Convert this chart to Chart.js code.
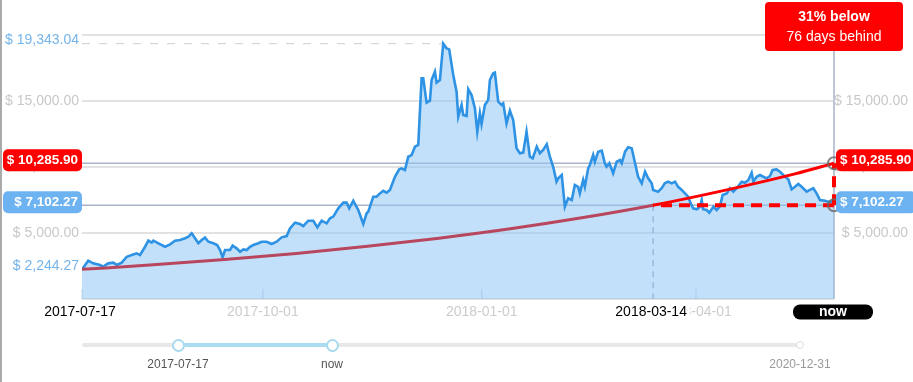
<!DOCTYPE html>
<html>
<head>
<meta charset="utf-8">
<script src="https://cdn.jsdelivr.net/npm/chart.js@4.4.1/dist/chart.umd.min.js"></script>
<style>
html,body{margin:0;padding:0;background:#fff;}
#wrap{position:relative;width:913px;height:382px;overflow:hidden;font-family:'Liberation Sans',Arial,sans-serif;}
#c{position:absolute;left:0;top:0;}
.edge{position:absolute;left:0;top:0;width:2px;height:382px;background:#aaa;}
.tab{position:absolute;top:-20px;height:20px;border:1px solid #d0d0d0;border-radius:0 0 3px 3px;box-sizing:border-box;}
.track{position:absolute;left:82px;top:343px;width:718px;height:4px;border-radius:2px;background:#e8e8e8;}
.range{position:absolute;top:343px;height:4px;background:#aadcf2;}
.handle{position:absolute;width:13px;height:13px;border-radius:50%;box-sizing:border-box;border:2px solid #a6daf0;background:#fff;top:338.5px;margin-left:-6.5px;}
.endpt{position:absolute;width:8px;height:8px;border-radius:50%;box-sizing:border-box;border:1.5px solid #dcdcdc;background:#fff;top:341px;margin-left:-4px;}
.slab{position:absolute;top:357px;font-size:12px;color:#555;transform:translateX(-50%);white-space:nowrap;}
</style>
</head>
<body>
<div id="wrap">
<canvas id="c" width="913" height="382"></canvas>
<div class="edge"></div>
<div class="tab" style="left:17px;width:81px"></div>
<div class="tab" style="left:189px;width:800px"></div>
<div id="slider"></div>
</div>
<script>
// ---------- data ----------
const startDate = '2017-07-17';
const priceDays = [0,2.6,4.7,7.6,8.9,11.0,13.2,14.6,16.7,18.8,20.9,23.0,24.4,26.5,27.9,29.3,30.0,32.1,34.9,37.0,39.1,41.2,43.3,44.7,46.1,47.5,48.9,50.3,51.7,53.1,55.2,56.8,58.0,59.1,60.1,62.2,63.3,65.0,66.4,67.8,69.2,70.6,72.0,74.1,75.5,77.6,79.7,81.8,83.9,86.0,87.4,89.5,91.6,93.0,95.1,97.2,98.9,100.7,102.8,104.2,105.6,107.7,109.8,111.2,112.3,114.0,116.1,118.2,119.6,120.3,122.4,123.8,125.2,126.6,128.0,129.4,131.5,133.3,134.3,135.7,137.1,138.5,139.9,141.3,142.7,143.4,144.8,146.2,146.9,148.3,149.0,150.4,151.8,153.2,154.3,156.0,157.4,158.1,159.5,160.2,161.6,162.3,163.7,165.1,166.1,167.2,167.9,169.3,170.7,171.4,172.8,173.5,174.9,176.3,177.0,178.4,179.8,181.2,182.6,184.0,185.4,186.8,188.2,189.4,191.1,192.4,193.8,195.3,196.6,198.0,199.4,200.1,201.6,202.9,204.3,205.8,207.1,208.5,209.2,210.6,211.3,212.7,213.4,214.8,215.5,216.9,218.4,219.7,220.4,221.6,223.2,224.7,226.1,226.8,228.2,229.5,231.0,232.4,233.7,235.2,236.6,237.9,239.4,240.0,242.1,243.6,244.9,246.3,247.8,249.2,250.5,252.0,253.4,254.7,255.5,256.8,258.3,259.7,260.4,261.0,262.5,263.6,265.3,266.7,268.1,269.2,270.9,272.3,273.7,275.1,277.2,278.6,280.0,281.4,282.1,283.5,284.9,286.3,287.7,289.1,290.2,291.9,293.3,295.4,296.8,298.2,299.6,301.0,302.4,304.5,305.9,307.3,308.7,310.1,312.2,313.6,315.0,316];
const prices = [2244.27,2900,2700,2575,2450,2700,2750,2575,2750,3200,3330,3460,3330,3960,4420,4270,4420,4220,3960,4140,4420,4470,4600,4720,4980,4600,4220,4470,4650,4340,4220,4090,3710,3160,3710,3710,4040,3840,3580,3760,3710,3960,4090,4220,4340,4340,4170,4340,4670,4770,5350,5780,5680,5530,5930,5930,5430,5930,5730,6110,6240,6870,7300,7300,6870,7450,6740,5680,6490,6610,7750,7750,8000,8200,8050,8260,9260,9820,9900,9770,10780,10900,11540,11670,16720,16720,14870,15020,16590,17220,16390,16590,19343.04,18990,18910,16970,15700,13810,14700,13940,13860,15890,15450,14450,12670,14070,13260,14700,15080,16590,17100,17150,14950,14700,14820,13300,14270,13560,11420,11040,11090,12670,10780,10660,11540,11040,11290,11720,10780,10020,8890,9140,9390,6990,7630,7500,8640,8500,8000,9020,8500,9900,10150,10910,10400,11160,11240,10280,10020,10280,9520,10400,10530,10280,11160,11490,11420,10280,9260,8760,9640,9140,8760,8260,8130,8390,8760,8890,8760,8890,8500,8260,8000,7750,7370,6870,6800,6990,7500,6800,6740,6540,6990,6740,7040,7880,8000,8390,8130,8390,8890,8810,9020,9570,8890,9260,9390,9260,9140,9320,9770,9820,9640,9260,9070,8310,8500,8710,8500,8130,8260,8390,8000,7500,7450,7370,7370,7102.27];
const trendDays   = [0,30,60,90,120,150,180,210,240,270,300,316];
const trendValues = [2244.27,2590,2990,3450,3990,4610,5320,6150,7102.27,8230,9500,10285.90];
const crossDay = 240;          // 2018-03-14
const nowDay = 316;            // now
const peakDay = 151.8;
const peakValue = 19343.04;
const startValue = 2244.27;
const nowValue = 7102.27;
const targetValue = 10285.90;
const xTickDays   = [0,76,168,240,258,316];
const xTickLabels = ['2017-07-17','2017-10-01','2018-01-01','2018-03-14','2018-04-01','now'];
const xHighlight  = ['2017-07-17','2018-03-14'];
const yTickValues = [0,5000,10000,15000,20000];
const sliderLabels = ['2017-07-17','now','2020-12-31'];

// ---------- helpers ----------
const FONT = "'Liberation Sans', Arial, sans-serif";
const money = v => '$ ' + v.toLocaleString('en-US',{minimumFractionDigits:2,maximumFractionDigits:2});
function rr(ctx,x,y,w,h,r){ctx.beginPath();ctx.moveTo(x+r,y);ctx.lineTo(x+w-r,y);ctx.arcTo(x+w,y,x+w,y+r,r);ctx.lineTo(x+w,y+h-r);ctx.arcTo(x+w,y+h,x+w-r,y+h,r);ctx.lineTo(x+r,y+h);ctx.arcTo(x,y+h,x,y+h-r,r);ctx.lineTo(x,y+r);ctx.arcTo(x,y,x+r,y,r);ctx.closePath();}
function line(ctx,x1,y1,x2,y2){ctx.beginPath();ctx.moveTo(x1,y1);ctx.lineTo(x2,y2);ctx.stroke();}

Chart.defaults.font.family = FONT;

const overlay = {
  id:'overlay',
  beforeDatasetsDraw(chart){
    const {ctx, chartArea:a, scales:{x,y}} = chart;
    const yT = y.getPixelForValue(targetValue), yN = y.getPixelForValue(nowValue);
    const xN = x.getPixelForValue(nowDay), xC = x.getPixelForValue(crossDay);
    ctx.save();
    ctx.strokeStyle='#cfcfcf'; ctx.lineWidth=1; ctx.setLineDash([8,9]);
    const yP = y.getPixelForValue(peakValue);
    line(ctx,a.left,yP,x.getPixelForValue(peakDay),yP);
    ctx.setLineDash([]);
    ctx.strokeStyle='#a9b4c8'; ctx.lineWidth=1.5;
    line(ctx,a.left,yT,a.right,yT);
    line(ctx,a.left,yN,a.right,yN);
    ctx.strokeStyle='#bcc6d6'; ctx.lineWidth=2;
    line(ctx,xN,a.top,xN,a.bottom);
    ctx.strokeStyle='rgba(120,150,185,0.45)'; ctx.lineWidth=1;
    xTickDays.forEach(d=>{ if(d!==crossDay && d!==nowDay){const px=x.getPixelForValue(d); line(ctx,px,a.bottom-10,px,a.bottom);} });
    ctx.strokeStyle='#a4b0c6'; ctx.lineWidth=1.5; ctx.setLineDash([6,5]);
    line(ctx,xC,yN,xC,a.bottom);
    ctx.restore();
  },
  afterDatasetsDraw(chart){
    const {ctx, scales:{x,y}} = chart;
    const yT = y.getPixelForValue(targetValue), yN = y.getPixelForValue(nowValue);
    const xN = x.getPixelForValue(nowDay), xC = x.getPixelForValue(crossDay);
    ctx.save();
    ctx.strokeStyle='#ff0000'; ctx.lineWidth=4; ctx.setLineDash([11,7]);
    ctx.beginPath(); ctx.moveTo(xN,yN); ctx.lineTo(xC,yN); ctx.stroke();
    ctx.beginPath(); ctx.moveTo(xN,yN); ctx.lineTo(xN,yT); ctx.stroke();
    ctx.setLineDash([]);
    ctx.strokeStyle='rgba(105,105,105,0.8)'; ctx.lineWidth=2;
    [yT,yN].forEach(py=>{ctx.beginPath();ctx.arc(xN,py,6,0,Math.PI*2);ctx.stroke();});
    ctx.restore();
  },
  afterDraw(chart){
    const {ctx, chartArea:a, scales:{x,y}} = chart;
    const yT = y.getPixelForValue(targetValue), yN = y.getPixelForValue(nowValue);
    ctx.save();
    ctx.textBaseline='middle';
    ctx.font = '14px '+FONT; ctx.fillStyle='#74b4ea'; ctx.textAlign='right';
    ctx.fillText(money(peakValue), a.left-3, y.getPixelForValue(peakValue)-3.5);
    ctx.fillText(money(startValue), a.left-3, y.getPixelForValue(startValue)-3.5);
    function box(val, py, color){
      ctx.fillStyle=color;
      rr(ctx,3,py-14,79,22,5); ctx.fill();
      rr(ctx,a.right+2,py-14,80,22,5); ctx.fill();
      ctx.fillStyle='#fff'; ctx.font='bold 13.5px '+FONT;
      ctx.textAlign='right'; ctx.fillText(money(val), 78, py-3);
      ctx.textAlign='left'; ctx.fillText(money(val), a.right+6, py-3);
    }
    box(targetValue, yT, '#ff0000');
    box(nowValue, yN, '#6db3f2');
    const ly = 312;
    ctx.font='14px '+FONT; ctx.textAlign='center';
    xTickDays.forEach((d,i)=>{
      const lab = xTickLabels[i];
      const px = x.getPixelForValue(d)-2;
      if(xHighlight.includes(lab)){
        const w = ctx.measureText(lab).width;
        ctx.fillStyle='#fff'; ctx.fillRect(px-w/2-3, ly-9, w+6, 18);
        ctx.fillStyle='#000'; ctx.fillText(lab, px, ly);
      } else if(d===nowDay){
        const cx = x.getPixelForValue(d)-1;
        ctx.fillStyle='#000'; rr(ctx,cx-40,ly-7.5,80,15,7); ctx.fill();
        ctx.fillStyle='#fff'; ctx.font='bold 14px '+FONT; ctx.fillText(lab, cx, ly);
        ctx.font='14px '+FONT;
      }
    });
    const xN = x.getPixelForValue(nowDay);
    const pct = Math.round((1 - nowValue/targetValue)*100);
    const behind = nowDay - crossDay;
    ctx.fillStyle='#ff0000'; rr(ctx,xN-69,2,138,49,4); ctx.fill();
    ctx.fillStyle='#fff'; ctx.textAlign='center';
    ctx.font='bold 14px '+FONT; ctx.fillText(pct+'% below', xN, 17.5);
    ctx.font='14px '+FONT; ctx.fillText(behind+' days behind', xN, 37.5);
    ctx.restore();
  }
};

const ctx = document.getElementById('c').getContext('2d');
new Chart(ctx,{
  type:'line',
  data:{datasets:[
    {label:'price', data: priceDays.map((d,i)=>({x:d,y:prices[i]})), borderColor:'#2e93e4', borderWidth:2.6,
     backgroundColor:'rgba(140,196,245,0.52)', fill:'origin', pointRadius:0, tension:0, order:2},
    {label:'trend', data: trendDays.map((d,i)=>({x:d,y:trendValues[i]})), borderWidth:3, pointRadius:0,
     cubicInterpolationMode:'monotone', fill:false, order:1, borderColor:'#ff0000',
     segment:{borderColor: c => c.p0.parsed.x >= crossDay ? '#ff0000' : '#b8475d'}}
  ]},
  options:{
    responsive:false, animation:false, devicePixelRatio:1,
    layout:{padding:{top:35,left:0,right:5,bottom:0}},
    plugins:{legend:{display:false}, tooltip:{enabled:false}},
    scales:{
      x:{type:'linear', min:0, max:nowDay,
         afterBuildTicks: ax => { ax.ticks = xTickDays.map(v=>({value:v})); },
         afterFit: s => { s.height = 83; },
         ticks:{autoSkip:false, maxRotation:0, padding:-3, color:'#cccccc', font:{size:14},
                callback:(v,i)=> (xHighlight.includes(xTickLabels[i]) || xTickDays[i]===nowDay) ? '' : xTickLabels[i]},
         grid:{display:false}, border:{display:false}},
      y:{min:0, max:20000, position:'left',
         afterBuildTicks: ax => { ax.ticks = yTickValues.map(v=>({value:v})); },
         afterFit: s => { s.width = 82; },
         ticks:{padding:3, color:'#c8c8c8', font:{size:14}, callback:v => (v===0||v===20000)?'':money(v)},
         grid:{color:'#e2e2e2', lineWidth:2, drawTicks:false}, border:{display:false}},
      y2:{min:0, max:20000, position:'right',
         afterBuildTicks: ax => { ax.ticks = yTickValues.map(v=>({value:v})); },
         afterFit: s => { s.width = 74; },
         ticks:{crossAlign:'far', color:'#c8c8c8', font:{size:14}, callback:v => (v===0||v===20000)?'':money(v)},
         grid:{display:false, drawTicks:false}, border:{display:false}}
    }
  },
  plugins:[overlay]
});

(function(){
  const s = document.getElementById('slider');
  const pos = [178, 332, 800];
  s.innerHTML = '<div class="track"></div>' +
    '<div class="range" style="left:'+pos[0]+'px;width:'+(pos[1]-pos[0])+'px"></div>' +
    '<div class="endpt" style="left:'+pos[2]+'px"></div>' +
    '<div class="handle" style="left:'+pos[0]+'px"></div>' +
    '<div class="handle" style="left:'+pos[1]+'px"></div>' +
    sliderLabels.map((l,i)=>'<div class="slab" style="left:'+pos[i]+'px;'+(i===2?'color:#999':'')+'">'+l+'</div>').join('');
})();
</script>
</body>
</html>
